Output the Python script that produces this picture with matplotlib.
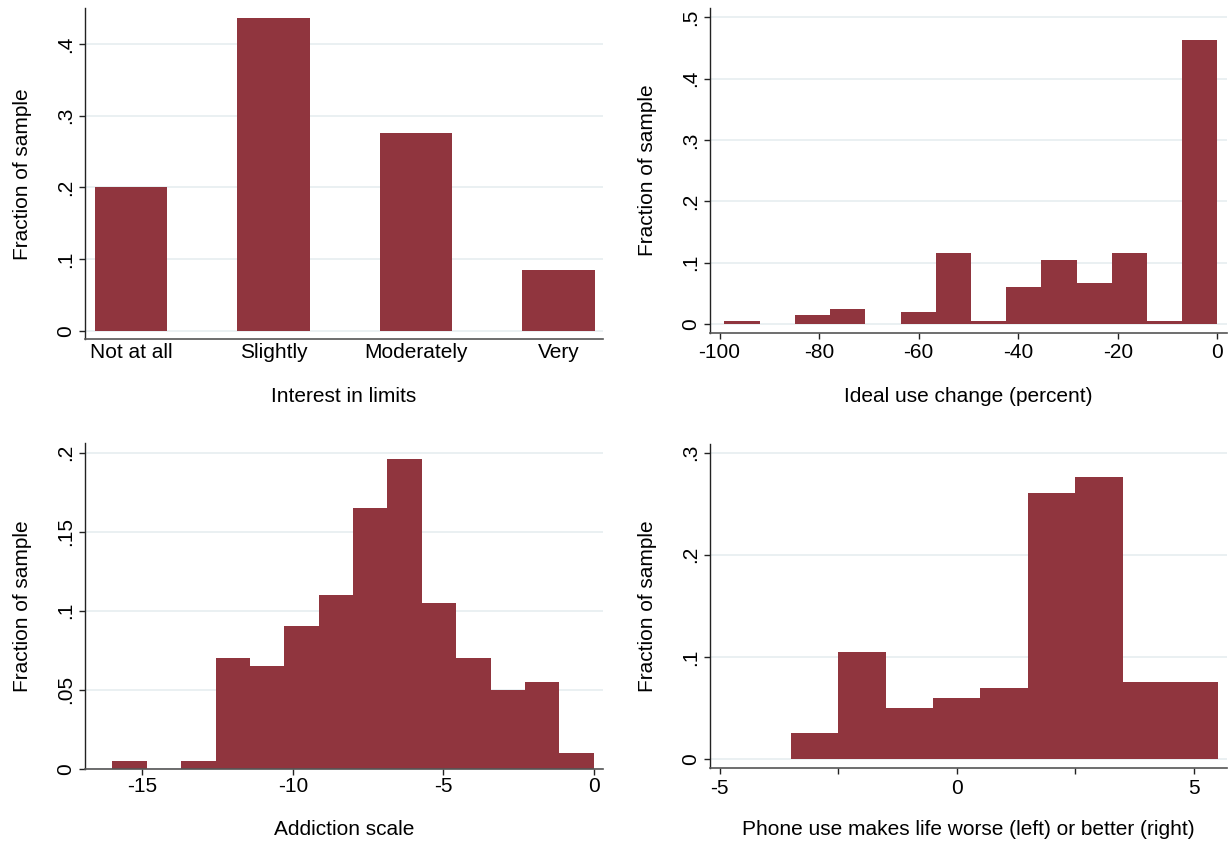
import numpy as np
import matplotlib
matplotlib.use('Agg')
import matplotlib.pyplot as plt

plt.rcParams['font.family'] = ['Liberation Sans', 'DejaVu Sans']
plt.rcParams['axes.unicode_minus'] = False

# interest in limits (bar chart)
interest_cats = ['Not at all', 'Slightly', 'Moderately', 'Very']
interest_frac = [0.200, 0.436, 0.276, 0.085]

# ideal use change (percent), 14 bins from -99 to 0
ideal_edges = np.linspace(-99, 0, 15)
ideal_frac = [0.005, 0.0, 0.015, 0.025, 0.0, 0.020, 0.115,
              0.005, 0.060, 0.105, 0.066, 0.115, 0.005, 0.463]

# addiction scale, 14 bins from -16 to 0
addict_edges = np.linspace(-16, 0, 15)
addict_frac = [0.005, 0.0, 0.005, 0.070, 0.065, 0.090, 0.110,
               0.165, 0.196, 0.105, 0.070, 0.050, 0.055, 0.010]

# phone use makes life worse/better, integer values -3..5
life_vals = [-3, -2, -1, 0, 1, 2, 3, 4, 5]
life_frac = [0.025, 0.105, 0.050, 0.060, 0.070, 0.261, 0.276, 0.075, 0.075]

bar_color = '#90353e'
grid_color = '#e6eef0'
fs = 15

fig = plt.figure(figsize=(12.31, 8.44), dpi=100)


def style_axes(ax, yticks, ylabels, xlab, xlab_y):
    for s in ['top', 'right']:
        ax.spines[s].set_visible(False)
    ax.spines['left'].set_color('#222222')
    ax.spines['bottom'].set_color('#555555')
    ax.spines['left'].set_linewidth(1.0)
    ax.spines['bottom'].set_linewidth(1.2)
    ax.set_yticks(yticks)
    ax.set_yticklabels(ylabels, rotation=90, va='center')
    ax.tick_params(axis='y', length=4, width=1, pad=3, labelsize=fs, color='#222222')
    ax.tick_params(axis='x', length=4, width=1, pad=3.5, labelsize=fs, color='#222222')
    ax.set_axisbelow(True)
    ax.yaxis.grid(True, color=grid_color, linewidth=1.2)
    ax.set_ylabel('Fraction of sample', fontsize=fs)
    ax.yaxis.set_label_coords(-0.103, 0.5)
    ax.set_xlabel(xlab, fontsize=fs)
    ax.xaxis.set_label_coords(0.5, xlab_y)


# top left
ax1 = fig.add_axes([0.0693, 0.5980, 0.4203, 0.3922])
x = np.arange(len(interest_cats))
ax1.bar(x, interest_frac, width=0.506, color=bar_color)
ax1.set_xlim(-0.32, 3.31)
ax1.set_ylim(-0.012, 0.4498)
style_axes(ax1, [0, 0.1, 0.2, 0.3, 0.4], ['0', '.1', '.2', '.3', '.4'],
           'Interest in limits', -0.143)
ax1.set_xticks(x)
ax1.set_xticklabels(interest_cats)
ax1.tick_params(axis='x', length=0, pad=3)

# top right
ax2 = fig.add_axes([0.5768, 0.6055, 0.4200, 0.3851])
ax2.stairs(ideal_frac, ideal_edges, fill=True, color=bar_color)
ax2.set_xlim(-101.9, 1.95)
ax2.set_ylim(-0.0147, 0.5152)
style_axes(ax2, [0, 0.1, 0.2, 0.3, 0.4, 0.5], ['0', '.1', '.2', '.3', '.4', '.5'],
           'Ideal use change (percent)', -0.166)
ax2.set_xticks([-100, -80, -60, -40, -20, 0])

# bottom left
ax3 = fig.add_axes([0.0693, 0.0892, 0.4203, 0.3859])
ax3.stairs(addict_frac, addict_edges, fill=True, color=bar_color)
ax3.set_xlim(-16.9, 0.3)
ax3.set_ylim(0, 0.2061)
style_axes(ax3, [0, 0.05, 0.1, 0.15, 0.2], ['0', '.05', '.1', '.15', '.2'],
           'Addiction scale', -0.157)
ax3.set_xticks([-15, -10, -5, 0])
ax3.tick_params(axis='x', pad=2)

# bottom right
ax4 = fig.add_axes([0.5768, 0.0897, 0.4200, 0.3842])
life_edges = np.append(np.array(life_vals) - 0.5, life_vals[-1] + 0.5)
ax4.stairs(life_frac, life_edges, fill=True, color=bar_color)
ax4.set_xlim(-5.2, 5.7)
ax4.set_ylim(-0.0091, 0.3085)
style_axes(ax4, [0, 0.1, 0.2, 0.3], ['0', '.1', '.2', '.3'],
           'Phone use makes life worse (left) or better (right)', -0.158)
ax4.set_xticks([-5, -2.5, 0, 2.5, 5])
ax4.set_xticklabels(['-5', '', '0', '', '5'])

fig.savefig('out.png', dpi=100)
